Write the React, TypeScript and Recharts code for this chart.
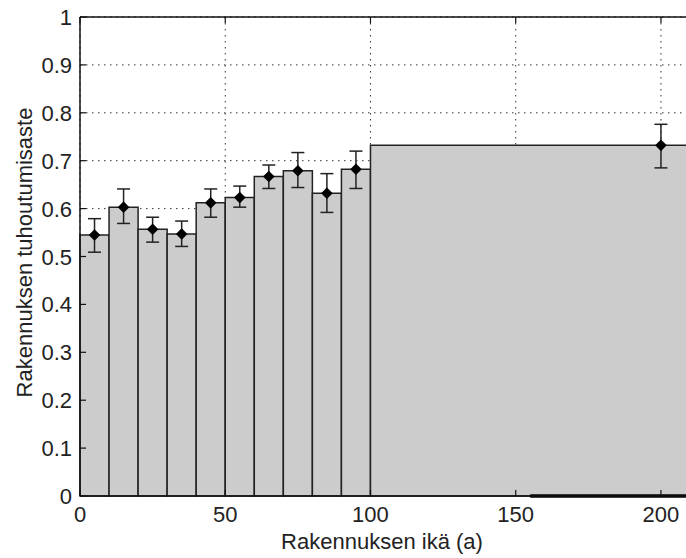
import React from 'react';
import {
  ComposedChart,
  Scatter,
  ErrorBar,
  XAxis,
  YAxis,
  CartesianGrid,
  ReferenceArea,
  ReferenceLine,
} from 'recharts';

// age bins (years) and the destruction rate measured in each
const binStart = [0, 10, 20, 30, 40, 50, 60, 70, 80, 90, 100];
const binEnd = [10, 20, 30, 40, 50, 60, 70, 80, 90, 100, 210];
const binCenter = [5, 15, 25, 35, 45, 55, 65, 75, 85, 95, 200];
const rate = [0.545, 0.603, 0.557, 0.547, 0.612, 0.623, 0.667, 0.679, 0.632, 0.682, 0.732];
const rateLow = [0.509, 0.569, 0.53, 0.521, 0.582, 0.603, 0.642, 0.644, 0.592, 0.642, 0.685];
const rateHigh = [0.579, 0.641, 0.582, 0.574, 0.641, 0.647, 0.691, 0.717, 0.673, 0.72, 0.776];

const xTicks = [0, 50, 100, 150, 200];
const yTicks = [0, 0.1, 0.2, 0.3, 0.4, 0.5, 0.6, 0.7, 0.8, 0.9, 1];

const points = binCenter.map((x, i) => ({
  x,
  y: rate[i],
  err: [rate[i] - rateLow[i], rateHigh[i] - rate[i]],
}));

const FONT = '"Liberation Sans", Arial, Helvetica, sans-serif';
const FONT_SIZE = 22;
const TEXT = '#222';
const AXIS = '#111';
const X_MARGIN = 7;
const Y_MARGIN = 8;
const MARK = 6;

const YTick = (props: any) => {
  const { x, y, payload } = props;
  const ax = x + Y_MARGIN;
  return (
    <g>
      <line x1={ax} x2={ax + MARK} y1={y} y2={y} stroke={AXIS} strokeWidth={1.2} />
      <text x={x} y={y} dy={8} textAnchor="end" fontSize={FONT_SIZE} fontFamily={FONT} fill={TEXT}>
        {String(payload.value)}
      </text>
    </g>
  );
};

const XTick = (props: any) => {
  const { x, y, payload } = props;
  const ay = y - X_MARGIN;
  return (
    <g>
      <line x1={x} x2={x} y1={ay} y2={ay - MARK} stroke={AXIS} strokeWidth={1.2} />
      <text x={x} y={y} dy={18.5} textAnchor="middle" fontSize={FONT_SIZE} fontFamily={FONT} fill={TEXT}>
        {String(payload.value)}
      </text>
    </g>
  );
};

const TopTick = (props: any) => {
  const { x, y } = props;
  const ay = y + X_MARGIN;
  return <line x1={x} x2={x} y1={ay} y2={ay + MARK} stroke={AXIS} strokeWidth={1.2} />;
};

const Diamond = (props: any) => {
  const { cx, cy } = props;
  const r = 5.8;
  return (
    <polygon
      points={`${cx - r},${cy} ${cx},${cy - r} ${cx + r},${cy} ${cx},${cy + r}`}
      fill="#000"
    />
  );
};

export default function App() {
  return (
    <div style={{ position: 'absolute', left: 0, top: 0, width: 686, height: 558, overflow: 'hidden', background: '#fff' }}>
      <ComposedChart width={700} height={558} data={points} margin={{ top: 0, right: 10, left: 0, bottom: 0 }}>
        <CartesianGrid
          stroke="#333"
          strokeDasharray="1.5 4.5"
          horizontalValues={yTicks}
          verticalValues={xTicks}
        />
        <XAxis
          xAxisId="top"
          orientation="top"
          type="number"
          dataKey="x"
          domain={[0, 210]}
          ticks={xTicks}
          height={17}
          tickSize={0}
          tickMargin={X_MARGIN}
          tick={<TopTick />}
          stroke={AXIS}
          strokeWidth={1.5}
        />
        <XAxis
          type="number"
          dataKey="x"
          domain={[0, 210]}
          ticks={xTicks}
          height={62}
          tickSize={0}
          tickMargin={X_MARGIN}
          tick={<XTick />}
          stroke={AXIS}
          strokeWidth={1.5}
          label={({ viewBox }: any) => (
            <text
              x={viewBox.x + 302}
              y={viewBox.y + 53.3}
              textAnchor="middle"
              fontSize={FONT_SIZE}
              fontFamily={FONT}
              fill={TEXT}
            >
              Rakennuksen ikä (a)
            </text>
          )}
        />
        <YAxis
          type="number"
          domain={[0, 1]}
          ticks={yTicks}
          width={80}
          tickSize={0}
          tickMargin={Y_MARGIN}
          tick={<YTick />}
          stroke={AXIS}
          strokeWidth={1.5}
          label={({ viewBox }: any) => {
            const cy = viewBox.y + viewBox.height / 2 - 4;
            return (
              <text
                x={31.5}
                y={cy}
                transform={`rotate(-90 31.5 ${cy})`}
                textAnchor="middle"
                fontSize={FONT_SIZE}
                fontFamily={FONT}
                fill={TEXT}
              >
                Rakennuksen tuhoutumisaste
              </text>
            );
          }}
        />
        {binStart.map((x1, i) => (
          <ReferenceArea
            key={i}
            x1={x1}
            x2={binEnd[i]}
            y1={0}
            y2={rate[i]}
            fill="#cccccc"
            fillOpacity={1}
            stroke="#222"
            strokeWidth={1.5}
            ifOverflow="visible"
          />
        ))}
        <ReferenceLine
          segment={[{ x: 155, y: 0 }, { x: 210, y: 0 }]}
          stroke="#000"
          strokeWidth={3.5}
          ifOverflow="visible"
        />
        <Scatter dataKey="y" shape={<Diamond />} isAnimationActive={false}>
          <ErrorBar dataKey="err" direction="y" width={6.5} stroke="#222" strokeWidth={1.5} isAnimationActive={false} />
        </Scatter>
      </ComposedChart>
    </div>
  );
}
